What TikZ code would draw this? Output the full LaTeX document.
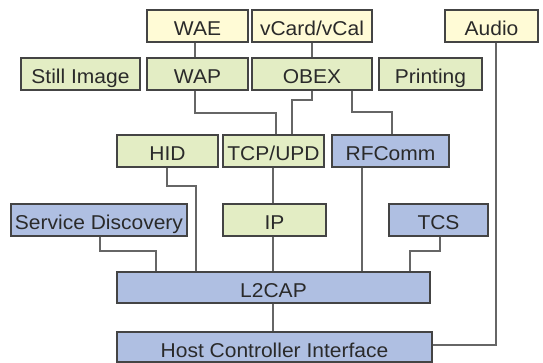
\documentclass[tikz,border=0pt]{standalone}
\usepackage{fontspec}
\setmainfont[FakeStretch=1.05]{Liberation Sans}
\definecolor{boxyellow}{HTML}{FFFBD6}
\definecolor{boxgreen}{HTML}{E3EDC4}
\definecolor{boxblue}{HTML}{AFBFE2}
\definecolor{edgegray}{HTML}{444444}
\definecolor{linegray}{HTML}{666666}
\definecolor{textgray}{HTML}{2A2A2A}
\tikzset{
  layer/.style={draw=edgegray, line width=1.3pt, inner sep=0pt, anchor=center,
    text=textgray, font=\fontsize{20}{21}\selectfont,
    text height=14pt, text depth=0pt},
  ylw/.style={layer, fill=boxyellow},
  grn/.style={layer, fill=boxgreen},
  blu/.style={layer, fill=boxblue},
  conn/.style={draw=linegray, line width=1.1pt}
}
% \stackbox{name}{style}{x1}{y1}{x2}{y2}{label}
\newcommand{\stackbox}[7]{%
  \node[#2, minimum width={#5-#3}, minimum height={#6-#4}]
    (#1) at ({(#3+#5)/2},{(#4+#6)/2}) {\raisebox{-3pt}{#7}};}
\begin{document}
\begin{tikzpicture}[x=1pt,y=-1pt]
\useasboundingbox (0,0) rectangle (543,363);
% protocol layers
\stackbox{wae}{ylw}{147}{10}{248}{42}{WAE}
\stackbox{vcard}{ylw}{252}{10}{372}{42}{vCard/vCal}
\stackbox{audio}{ylw}{445}{10}{538}{42}{Audio}
\stackbox{still}{grn}{21}{58}{140}{90}{Still Image}
\stackbox{wap}{grn}{147}{58}{248}{90}{WAP}
\stackbox{obex}{grn}{252}{58}{372}{90}{OBEX}
\stackbox{print}{grn}{379}{58}{482}{90}{Printing}
\stackbox{hid}{grn}{117}{135}{218}{167}{HID}
\stackbox{tcp}{grn}{223}{135}{324}{167}{TCP/UPD}
\stackbox{rfc}{blu}{332}{135}{449}{167}{RFComm}
\stackbox{sd}{blu}{11}{204}{187}{236}{Service Discovery}
\stackbox{ip}{grn}{223}{204}{326}{236}{IP}
\stackbox{tcs}{blu}{389}{204}{488}{236}{TCS}
\stackbox{l2}{blu}{117}{272}{430}{303}{L2CAP}
\stackbox{hci}{blu}{117}{332}{432}{362}{Host Controller Interface}
% links between layers
\draw[conn] (wae.south -| 195,0) -- (wap.north -| 195,0);
\draw[conn] (vcard.south -| 312,0) -- (obex.north -| 312,0);
\draw[conn] (wap.south -| 195,0) |- (276,113) -- (tcp.north -| 276,0);
\draw[conn] (obex.south -| 312,0) |- (292,100) -- (tcp.north -| 292,0);
\draw[conn] (obex.south -| 352,0) |- (392,112) -- (rfc.north -| 392,0);
\draw[conn] (audio.south -| 496,0) -- (496,345) -- (hci.east |- 0,345);
\draw[conn] (hid.south -| 167,0) |- (196,186) -- (l2.north -| 196,0);
\draw[conn] (tcp.south -| 273,0) -- (ip.north -| 273,0);
\draw[conn] (ip.south -| 273,0) -- (l2.north -| 273,0);
\draw[conn] (rfc.south -| 362,0) -- (l2.north -| 362,0);
\draw[conn] (sd.south -| 100,0) |- (156,251) -- (l2.north -| 156,0);
\draw[conn] (tcs.south -| 440,0) |- (410,251) -- (l2.north -| 410,0);
\draw[conn] (l2.south -| 273,0) -- (hci.north -| 273,0);
\end{tikzpicture}
\end{document}
